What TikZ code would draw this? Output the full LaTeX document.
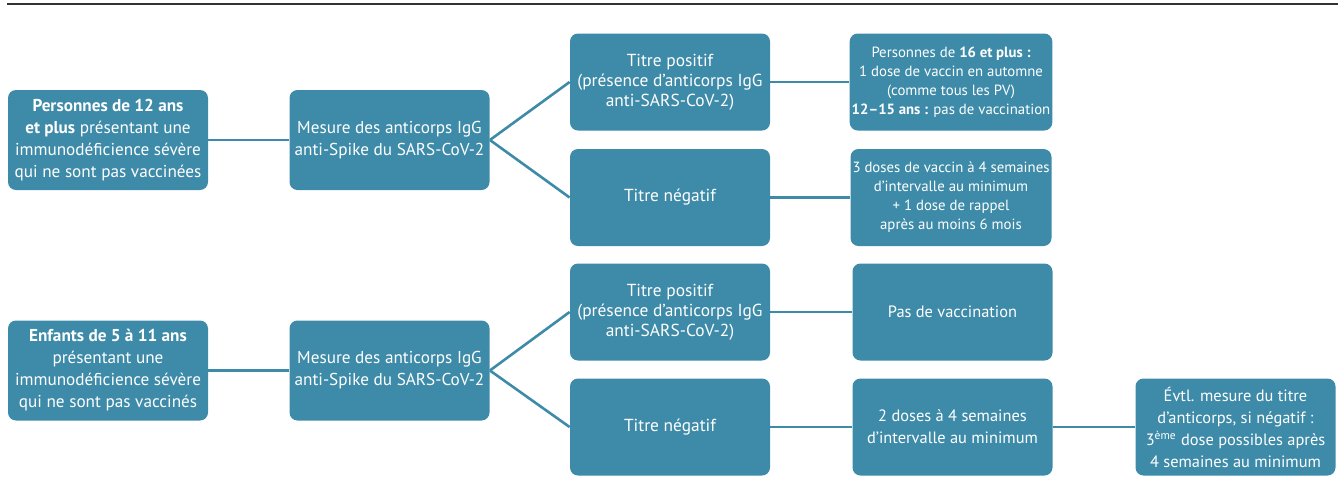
\documentclass[tikz,border=0pt]{standalone}
\usepackage{fontspec}
\setmainfont{PT Sans}
\usepackage{tikz}

\definecolor{teal1}{HTML}{3D8BA8}
\definecolor{rule1}{HTML}{333333}

\tikzset{
  box/.style={fill=teal1, rounded corners=4pt, text=white, align=center,
    minimum width=100pt, minimum height=50pt, inner sep=1pt,
    font=\fontsize{8.6}{11}\selectfont},
  titre/.style={box, minimum height=48.5pt, font=\fontsize{8.7}{10}\selectfont},
  note/.style={titre, font=\fontsize{7.4}{9.5}\selectfont},
  suite/.style={titre, font=\fontsize{8.2}{11}\selectfont},
  link/.style={draw=teal1, line width=1.3pt}
}

\begin{document}
\begin{tikzpicture}[x=0.5pt,y=-0.5pt]
\useasboundingbox (0,0) rectangle (1338,499);
\draw[rule1, line width=1pt] (7,4.3)--(1338,4.3);
% groupe 12 ans et plus
\node[box] (pers) at (108,140) {\textbf{Personnes de 12 ans}\\ \textbf{et plus} présentant une\\ immunodéficience sévère\\ qui ne sont pas vaccinées};
\node[box] (mes1) at (389.5,140) {Mesure des anticorps IgG\\ anti-Spike du SARS-CoV-2};
\node[titre] (pos1) at (670,82) {Titre positif\\ (présence d’anticorps IgG\\ anti-SARS-CoV-2)};
\node[titre] (neg1) at (670,197.5) {Titre négatif};
\node[note] (res1) at (951,82) {Personnes de \textbf{16 et plus :}\\ 1 dose de vaccin en automne\\ (comme tous les PV)\\ \textbf{12–15 ans :} pas de vaccination};
\node[note] (res2) at (951,197.5) {3 doses de vaccin à 4 semaines\\ d’intervalle au minimum\\ + 1 dose de rappel\\ après au moins 6 mois};
% groupe 5 a 11 ans
\node[box] (enf) at (108,370.5) {\textbf{Enfants de 5 à 11 ans}\\ présentant une\\ immunodéficience sévère\\ qui ne sont pas vaccinés};
\node[box] (mes2) at (389.5,370.5) {Mesure des anticorps IgG\\ anti-Spike du SARS-CoV-2};
\node[titre] (pos2) at (670,312) {Titre positif\\ (présence d’anticorps IgG\\ anti-SARS-CoV-2)};
\node[titre] (neg2) at (670,427) {Titre négatif};
\node[suite] (res3) at (952.5,312) {Pas de vaccination};
\node[suite] (res4) at (952.5,427) {2 doses à 4 semaines\\ d’intervalle au minimum};
\node[suite] (evtl) at (1235.5,427) {Évtl. mesure du titre\\ d’anticorps, si négatif :\\ 3\textsuperscript{ème} dose possibles après\\ 4 semaines au minimum};
% liens
\draw[link] (pers)--(mes1);
\draw[link] (mes1.east)--(pos1.west);
\draw[link] (mes1.east)--(neg1.west);
\draw[link] (pos1)--(res1);
\draw[link] (neg1)--(res2);
\draw[link] (enf)--(mes2);
\draw[link] (mes2.east)--(pos2.west);
\draw[link] (mes2.east)--(neg2.west);
\draw[link] (pos2)--(res3);
\draw[link] (neg2)--(res4);
\draw[link] (res4)--(evtl);
\end{tikzpicture}
\end{document}
